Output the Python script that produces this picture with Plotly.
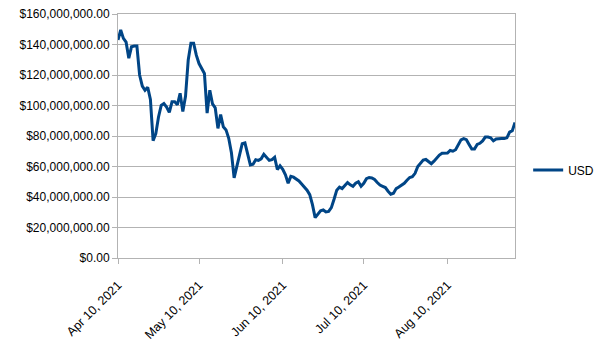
import plotly.graph_objects as go
import pandas as pd

start_date = "2021-04-10"
usd_millions = [
    143, 149.5, 144, 141.5, 131, 138.5, 139, 139, 120, 112.7,
    110, 112, 104, 77, 81.5, 92.5, 100, 101.3, 99, 95.5,
    102.4, 102.4, 100.5, 108, 96, 106, 129.8, 140.8, 140.8, 133,
    127.5, 124.5, 121, 95, 110, 101, 98.5, 85, 94, 86,
    84, 78.5, 69, 52.5, 60, 69, 75, 75.5, 68, 61,
    61.5, 64.4, 64, 65, 68, 66, 64, 64.5, 66, 58,
    60.5, 58.2, 54.5, 49, 53.5, 53, 52, 50.5, 48.5, 46.5,
    44.5, 41.5, 35, 26.5, 28.8, 31, 31.5, 30.2, 30.5, 33,
    38.5, 44.5, 46.5, 45.5, 47.5, 49.5, 48, 47, 49, 50,
    47, 49, 52, 52.8, 52.5, 51.5, 49.5, 47.8, 47, 46.2,
    43.8, 41.8, 42.5, 45.5, 46.5, 47.5, 49, 51, 52.8, 53.3,
    55.5, 60, 62, 64.2, 64.6, 63.3, 61.8, 63.5, 65.8, 67.5,
    68.7, 68.8, 68.8, 70.5, 70, 71, 74.5, 77.5, 78.3, 77.6,
    74.5, 71.5, 71.5, 74.5, 75.2, 76.8, 79.3, 79.3, 78.8, 76.8,
    78, 78.3, 78.3, 78.3, 78.8, 82.6, 83.5, 88.8,
]
tick_dates = ["2021-04-10", "2021-05-10", "2021-06-10", "2021-07-10", "2021-08-10"]
tick_labels = ["Apr 10, 2021", "May 10, 2021", "Jun 10, 2021", "Jul 10, 2021", "Aug 10, 2021"]
y_ticks = [0, 20e6, 40e6, 60e6, 80e6, 100e6, 120e6, 140e6, 160e6]

dates = pd.date_range(start_date, periods=len(usd_millions), freq="D")
values = [v * 1e6 for v in usd_millions]

fig = go.Figure()
fig.add_trace(go.Scatter(
    x=dates, y=values, mode="lines", name="USD",
    line=dict(color="#004586", width=3),
))

grid = "#b3b3b3"
fig.update_layout(
    width=605, height=340,
    margin=dict(l=118, r=90, t=14, b=82),
    paper_bgcolor="white", plot_bgcolor="white",
    font=dict(family="Liberation Sans, Arial, sans-serif", size=12, color="#000000"),
    showlegend=True,
    legend=dict(xref="container", yref="container", x=0.873, y=0.5,
                xanchor="left", yanchor="middle",
                font=dict(size=12), bgcolor="rgba(0,0,0,0)", itemwidth=30),
    xaxis=dict(
        range=[dates[0], dates[-1]], automargin=False,
        tickvals=tick_dates, ticktext=tick_labels, tickangle=-45,
        tickfont=dict(size=12.5), ticklabelstandoff=9,
        showgrid=False, showline=True, linecolor=grid, linewidth=1, mirror=True,
        ticks="outside", ticklen=5, tickcolor=grid, zeroline=False,
    ),
    yaxis=dict(
        range=[0, 160e6], tickvals=y_ticks, tickformat="$,.2f", automargin=False,
        showgrid=True, gridcolor=grid, gridwidth=1,
        showline=True, linecolor=grid, linewidth=1, mirror=True,
        ticks="outside", ticklen=5, tickcolor=grid, zeroline=False,
    ),
)

fig.write_html("out.html")
